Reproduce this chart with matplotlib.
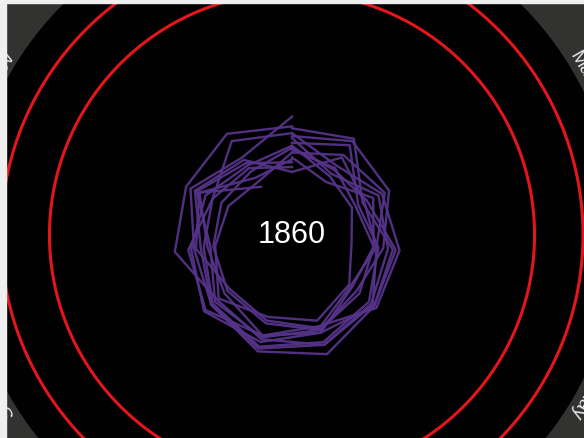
import numpy as np
import matplotlib.pyplot as plt
from matplotlib.patches import Rectangle

# monthly temperature anomaly (deg C, vs 1850-1900), one list per year
months = ['Jan', 'Feb', 'Mar', 'Apr', 'May', 'Jun',
          'Jul', 'Aug', 'Sep', 'Oct', 'Nov', 'Dec']
years = [1850, 1851, 1852, 1853, 1854, 1855, 1856, 1857, 1858, 1859, 1860]
anom_1850 = [-0.05, 0.10, -0.25, -0.10, 0.05, 0.15, 0.20, 0.08, -0.08, -0.10, 0.15, 0.05]
anom_1851 = [-0.15, -0.02, 0.05, -0.12, 0.10, 0.18, 0.12, 0.02, 0.22, 0.20, 0.24, 0.12]
anom_1852 = [0.10, 0.18, -0.20, 0.05, 0.12, 0.28, 0.25, 0.10, 0.02, 0.15, -0.05, 0.22]
anom_1853 = [0.05, -0.15, 0.02, 0.12, 0.15, -0.02, 0.08, 0.18, 0.08, -0.10, -0.18, -0.30]
anom_1854 = [-0.10, -0.20, -0.15, 0.08, 0.12, 0.05, 0.15, 0.20, 0.05, -0.02, -0.15, -0.08]
anom_1855 = [0.00, -0.25, -0.02, 0.00, 0.08, 0.18, 0.22, 0.10, -0.05, 0.10, -0.08, -0.35]
anom_1856 = [-0.12, -0.18, -0.28, -0.15, -0.08, 0.02, -0.05, -0.12, -0.18, -0.20, -0.22, -0.10]
anom_1857 = [-0.08, -0.28, -0.32, -0.38, -0.22, -0.08, -0.12, 0.00, -0.20, -0.28, -0.35, -0.15]
anom_1858 = [-0.20, -0.35, -0.08, -0.15, -0.18, 0.05, 0.08, -0.08, -0.12, 0.05, -0.30, -0.22]
anom_1859 = [0.02, 0.15, 0.10, -0.05, -0.12, 0.02, 0.10, 0.05, -0.15, 0.08, -0.12, -0.25]
anom_1860 = [-0.35, -0.05, -0.18, -0.12, -0.20, 0.00, -0.08, -0.15, 0.00, 0.05, -0.41]  # frame stops at Nov
anomalies = [anom_1850, anom_1851, anom_1852, anom_1853, anom_1854, anom_1855,
             anom_1856, anom_1857, anom_1858, anom_1859, anom_1860]
limits = [1.5, 2.0]  # red reference circles

W, H = 584, 438
fig = plt.figure(figsize=(W / 100, H / 100), dpi=100)
fig.set_facecolor('#323331')

# polar axes bigger than the figure, centre at (292, 235) px
cx, cy, rad = 292, 235, 325
ax = fig.add_axes([(cx - rad) / W, (H - cy - rad) / H, 2 * rad / W, 2 * rad / H],
                  projection='polar')
ax.set_facecolor('#000100')
ax.set_theta_zero_location('N')
ax.set_theta_direction(-1)
ax.set_ylim(0, 3.35)
ax.set_xticks([])
ax.set_yticks([])
ax.grid(False)
ax.spines['polar'].set_visible(False)

# each year is its own loop, Jan at the top, Dec back at the top
theta = np.linspace(0, 2 * np.pi, 12)
for i, year in enumerate(years):
    r = np.array(anomalies[i]) + 1.0
    ax.plot(theta[:len(r)], r, color='#56338a', lw=1.7, alpha=0.95)

# temperature limit circles
full = np.linspace(0, 2 * np.pi, 500)
for lim in limits:
    ax.plot(full, [1.0 + lim] * len(full), color='#e3161c', lw=2.2)

# month labels around the edge
for i, m in enumerate(months):
    ang = 30 * i
    ax.text(np.deg2rad(ang), 3.45, m, color='#e6e6e6', fontsize=14,
            ha='center', va='center', rotation=-ang, rotation_mode='anchor',
            family='Liberation Sans')

ax.text(0, 0, str(years[-1]), color='white', fontsize=22, ha='center',
        va='center', family='Liberation Sans')

# light page border at left and top
fig.add_artist(Rectangle((0, 0), 6 / W, 1, transform=fig.transFigure,
                         color='#efefef', zorder=5))
fig.add_artist(Rectangle((0, 1 - 3 / H), 1, 3 / H, transform=fig.transFigure,
                         color='#efefef', zorder=5))

fig.savefig('out.png', dpi=100, facecolor=fig.get_facecolor())
